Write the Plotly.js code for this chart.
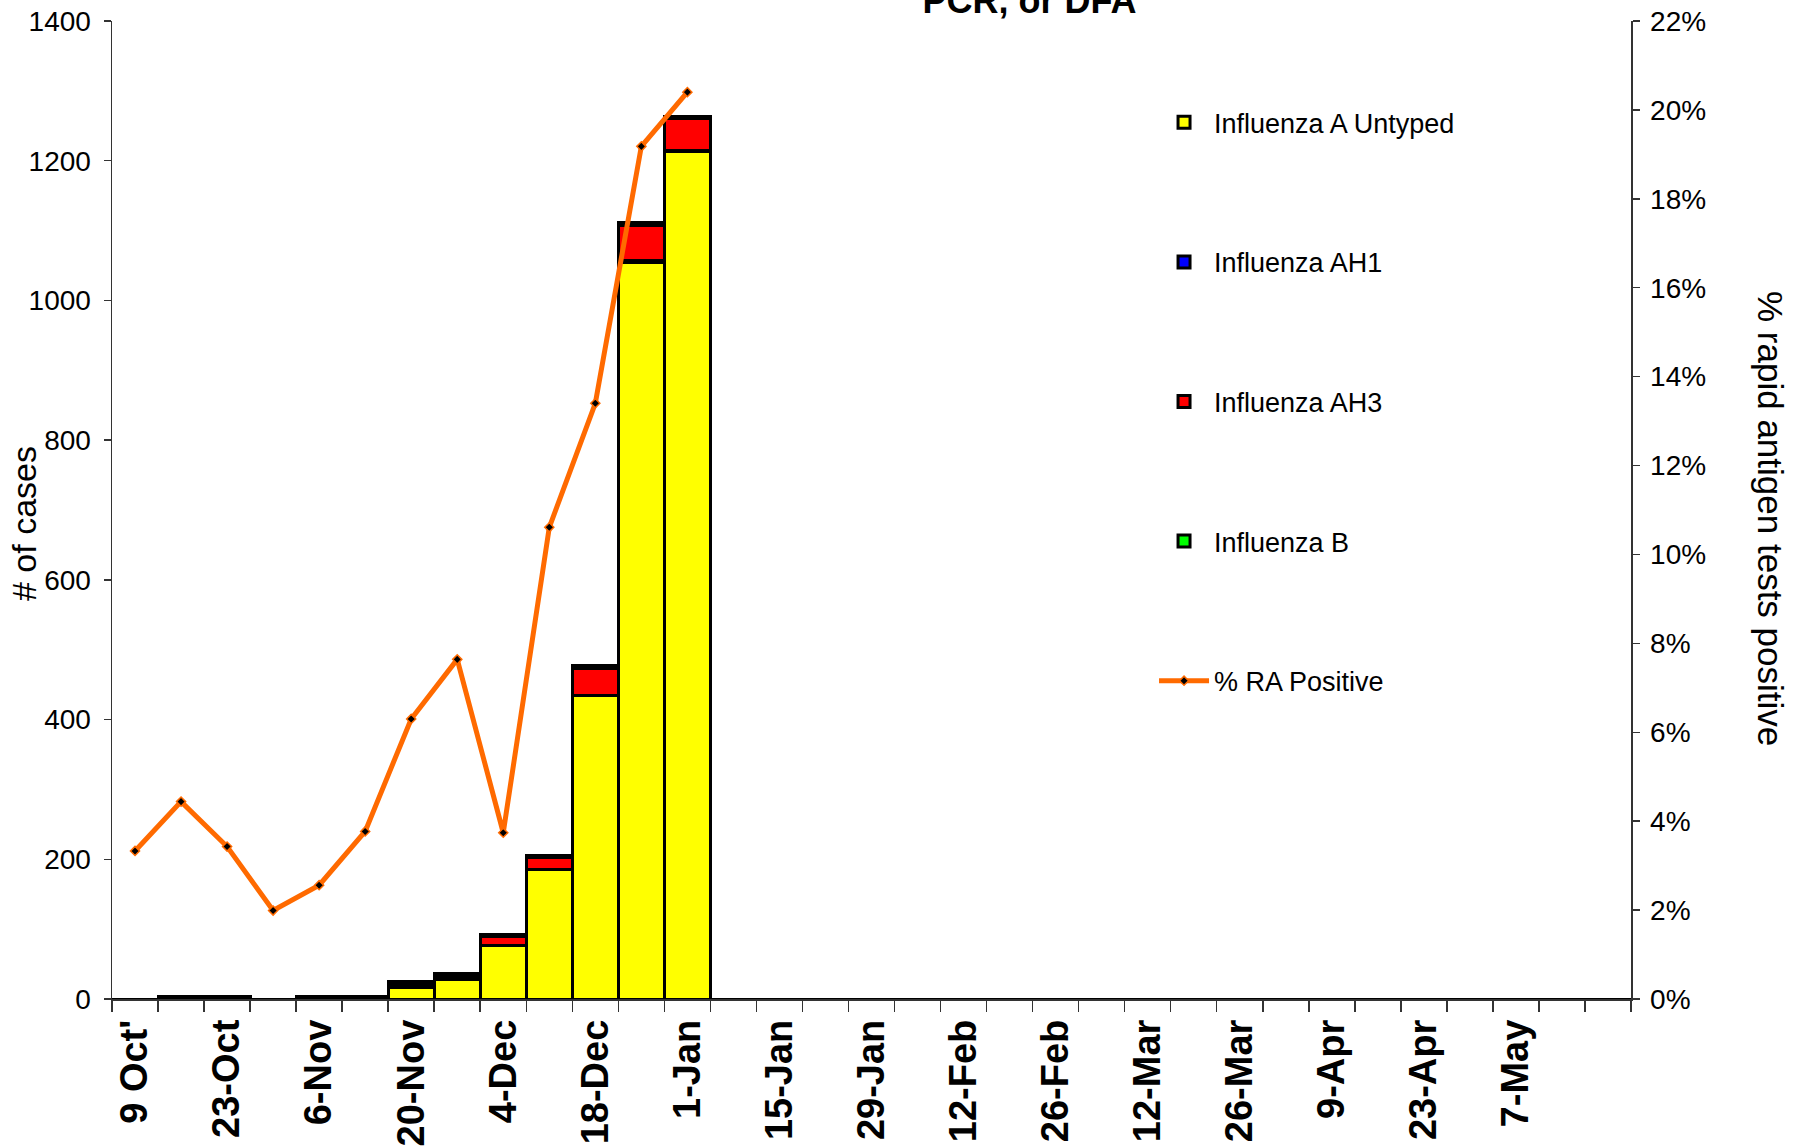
<!DOCTYPE html>
<html>
<head>
<meta charset="utf-8">
<script src="https://cdn.plot.ly/plotly-3.0.1.min.js"></script>
<style>html,body{margin:0;padding:0;background:#fff;}#chart{width:1800px;height:1147px;}</style>
</head>
<body>
<div id="chart"></div>
<script>
// Weekly categories (week starting)
const weeks = ["9-Oct","16-Oct","23-Oct","30-Oct","6-Nov","13-Nov","20-Nov","27-Nov","4-Dec","11-Dec","18-Dec","25-Dec",
  "1-Jan","8-Jan","15-Jan","22-Jan","29-Jan","5-Feb","12-Feb","19-Feb","26-Feb","5-Mar","12-Mar","19-Mar","26-Mar",
  "2-Apr","9-Apr","16-Apr","23-Apr","30-Apr","7-May","14-May","21-May"];
const tickLabels = ["9 Oct'","","23-Oct","","6-Nov","","20-Nov","","4-Dec","","18-Dec","","1-Jan","","15-Jan","",
  "29-Jan","","12-Feb","","26-Feb","","12-Mar","","26-Mar","","9-Apr","","23-Apr","","7-May","",""];

// Case counts by week
const untyped = [0,3,3,0,3,3,16,28,76,185,434,1055,1213,0,0,0,0,0,0,0,0,0,0,0,0,0,0,0,0,0,0,0,0];
const ah1     = [0,0,0,0,0,0,2,1,1,1,1,2,1,0,0,0,0,0,0,0,0,0,0,0,0,0,0,0,0,0,0,0,0];
const ah3     = [0,0,0,0,0,0,3,4,12,16,38,50,46,0,0,0,0,0,0,0,0,0,0,0,0,0,0,0,0,0,0,0,0];
const fluB    = [0,0,0,0,0,0,4,4,4,4,4,4,4,0,0,0,0,0,0,0,0,0,0,0,0,0,0,0,0,0,0,0,0];
// % rapid antigen tests positive
const raPositive = [0.0333,0.0444,0.0343,0.0199,0.0256,0.0377,0.0630,0.0764,0.0374,0.1061,0.1340,0.1918,0.2040,
  null,null,null,null,null,null,null,null,null,null,null,null,null,null,null,null,null,null,null,null];

const edge = {color:'#000000', width:3};
const barTrace = (name, y, color, grp) => ({
  type:'bar', name:name, x:weeks, y:y, legendgroup:grp,
  marker:{color:color, line:edge}, hoverinfo:'x+y+name'
});

const traces = [
  barTrace('Influenza A Untyped', untyped, '#FFFF00', 'g1'),
  barTrace('Influenza AH1', ah1, '#0000FF', 'g2'),
  barTrace('Influenza AH3', ah3, '#FF0000', 'g3'),
  barTrace('Influenza B', fluB, '#00FF00', 'g4'),
  {type:'scatter', mode:'lines+markers', name:'% RA Positive', x:weeks, y:raPositive, yaxis:'y2',
   legendgroup:'g5', connectgaps:false,
   line:{color:'#FF6A00', width:5},
   marker:{symbol:'diamond', size:7, color:'#000000', line:{color:'#FF6A00', width:1.5}}}
];

const sans = "Liberation Sans, Arial, sans-serif";

const layout = {
  width:1800, height:1147,
  paper_bgcolor:'#ffffff', plot_bgcolor:'#ffffff',
  margin:{l:112, r:169, t:21, b:148, pad:0},
  barmode:'stack', bargap:0,
  showlegend:true,
  title:{text:'PCR, or DFA', font:{family:sans, size:36, color:'#000', weight:'bold'},
         x:0.572, xref:'container', xanchor:'center', y:1, yref:'container', yanchor:'middle'},
  xaxis:{type:'category', categoryorder:'array', categoryarray:weeks,
         tickmode:'array', tickvals:weeks, ticktext:tickLabels, tickson:'boundaries',
         ticks:'outside', ticklen:11, tickwidth:1.5, tickcolor:'#333',
         showline:true, linecolor:'#333', linewidth:1.5, showgrid:false, zeroline:false,
         tickangle:-90, tickfont:{family:sans, size:38, color:'#000', weight:'bold'},
         ticklabelstandoff:4, range:[-0.5, 32.5], fixedrange:true},
  yaxis:{range:[0,1400], dtick:200, tick0:0, ticks:'outside', ticklen:7, tickwidth:1.5, tickcolor:'#333',
         showline:true, linecolor:'#333', linewidth:1.5, showgrid:false, zeroline:false,
         tickfont:{family:sans, size:28, color:'#000'}, ticklabelstandoff:7},
  yaxis2:{overlaying:'y', side:'right', range:[0,0.22], dtick:0.02, tick0:0, tickformat:'.0%',
          ticks:'outside', ticklen:7, tickwidth:1.5, tickcolor:'#333',
          showline:true, linecolor:'#333', linewidth:1.5, showgrid:false, zeroline:false,
          tickfont:{family:sans, size:28, color:'#000'}, ticklabelstandoff:5},
  legend:{x:0.686, y:0.921, xanchor:'left', yanchor:'top', traceorder:'grouped', tracegroupgap:101.5,
          font:{family:sans, size:27, color:'#000'}, itemwidth:50, bgcolor:'rgba(0,0,0,0)', borderwidth:0},
  annotations:[
    {text:'# of cases', textangle:-90, xref:'paper', yref:'paper',
     x:0, xanchor:'center', xshift:-88, y:0.5, yanchor:'middle', yshift:-14, showarrow:false,
     font:{family:sans, size:34, color:'#000'}},
    {text:'% rapid antigen tests positive', textangle:90, xref:'paper', yref:'paper',
     x:1.0, xanchor:'center', xshift:140, y:0.5, yanchor:'middle', yshift:-8, showarrow:false,
     font:{family:sans, size:35, color:'#000'}}]
};

Plotly.newPlot('chart', traces, layout, {displayModeBar:false, staticPlot:true});
</script>
</body>
</html>
